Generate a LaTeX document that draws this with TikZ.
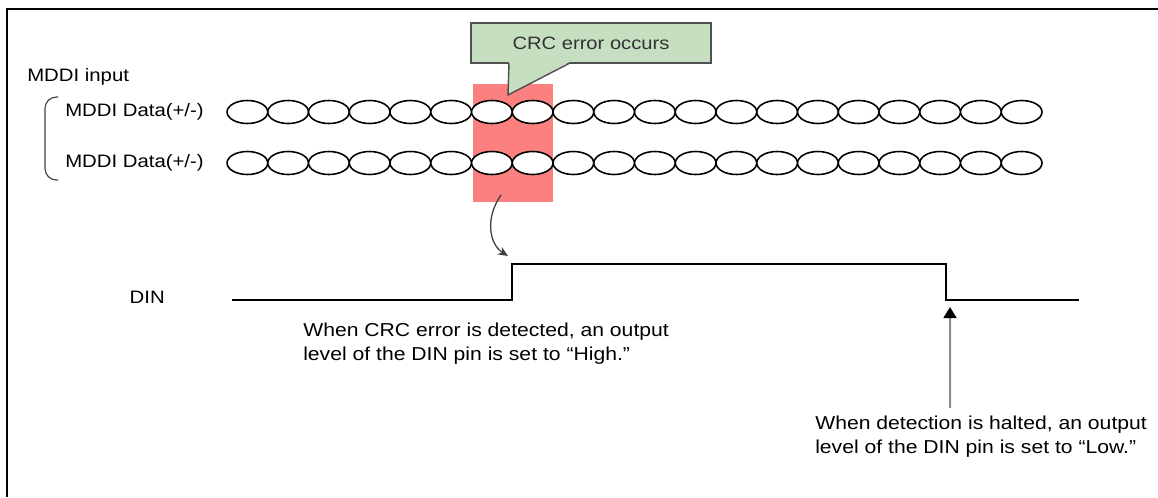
\documentclass[tikz,border=0pt]{standalone}
\usepackage{fontspec}
\setmainfont{Liberation Sans}[FakeStretch=1.13]
\usepackage{tikz}
\usetikzlibrary{arrows.meta,positioning,shapes.geometric}
\definecolor{errred}{RGB}{252,128,128}
\definecolor{notegreen}{RGB}{198,223,192}
\definecolor{noteline}{RGB}{80,80,80}

\begin{document}
\begin{tikzpicture}[
    x=0.7pt, y=-0.7pt,
    lbl/.style={inner sep=0pt, font=\fontsize{12.6}{16.8}\selectfont},
    note/.style={inner sep=0pt, font=\fontsize{13.1}{16.8}\selectfont, align=left, anchor=north west},
    bitcell/.style={ellipse, draw, fill=white, line width=1.1pt, minimum width=28.5pt, minimum height=16.1pt, inner sep=0pt},
    errbox/.style={fill=errred, minimum width=56pt, minimum height=82.6pt, inner sep=0pt},
    callbox/.style={draw=noteline, fill=notegreen, line width=1pt, minimum width=168pt, minimum height=28pt, font=\fontsize{12.5}{15}\selectfont, text=black!80},
    sigline/.style={line width=1.75pt},
    frameline/.style={line width=1.75pt},
    flow/.style={-{Stealth[length=7pt,width=6pt]}, line width=0.9pt, black!75},
    haltarr/.style={-{Triangle[length=7.7pt,width=9pt,color=black]}, line width=1.4pt, black!45}
]
\useasboundingbox (0,0) rectangle (1158,497);
\draw[frameline] (7,497) -- (7,9) -- (1158,9);

\node[lbl, anchor=west] (mddi) at (27,77) {MDDI input};
\node[lbl, anchor=west] (data1) at (65,112) {MDDI Data(+/-)};
\node[lbl, anchor=west] (data2) at (65,163) {MDDI Data(+/-)};
\draw[line width=0.8pt, black!75, rounded corners=8pt] (58,97) -- (45,97) -- (45,180) -- (58,180);

\node[errbox] (err) at (513,143) {};
\foreach \i in {1,...,20} {
  \node[bitcell] (a\i) at ({247.4+40.75*(\i-1)},112) {};
  \node[bitcell] (b\i) at ({247.4+40.75*(\i-1)},163) {};
}

\node[callbox] (crc) at (591,43) {CRC error occurs};
\coordinate (tipl) at (509,63);
\coordinate (tip) at (508,95);
\coordinate (tipr) at (570,63);
\fill[notegreen] ([yshift=0.8pt]tipl) -- (tip) -- ([yshift=0.8pt]tipr) -- cycle;
\draw[noteline, line width=1pt] (tipl) -- (tip) -- (tipr);

\coordinate (s0) at (232,300);
\coordinate (s1) at (512,300);
\coordinate (s2) at (512,264);
\coordinate (s3) at (946,264);
\coordinate (s4) at (946,300);
\coordinate (s5) at (1079,300);
\draw[sigline] (s0) -- (s1) -- (s2) -- (s3) -- (s4) -- (s5);
\node[lbl, anchor=east] (din) at (165,297) {DIN};

\coordinate (errpt) at (501,195);
\draw[flow] (errpt) .. controls (485,218) and (489,244) .. ([xshift=-2.8pt,yshift=5.6pt]s2);

\node[note] (highnote) at (303,323) {When CRC error is detected, an output\\level of the DIN pin is set to “High.”};
\node[note] (lownote) at (815,416) {When detection is halted, an output\\level of the DIN pin is set to “Low.”};
\coordinate (haltpt) at (950,408);
\draw[haltarr] (haltpt) -- ([xshift=2.8pt,yshift=-4.9pt]s4);
\end{tikzpicture}
\end{document}
